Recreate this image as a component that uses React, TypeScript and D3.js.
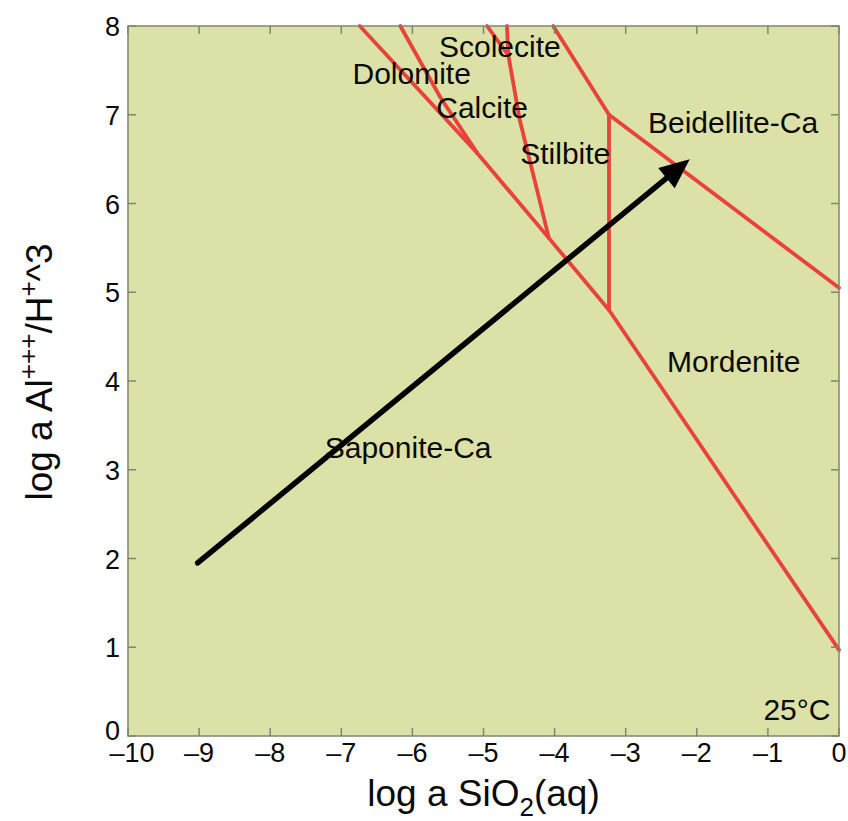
import React from "react";
import * as d3 from "d3";

type Pt = [number, number];

// Phase boundaries (log a SiO2(aq), log a Al+++/H+^3)
const boundaryDolomite: Pt[] = [[-6.74, 8], [-5.09, 6.57]];
const boundaryCalcite: Pt[] = [[-6.17, 8], [-5.61, 7.2], [-5.09, 6.57]];
const boundarySaponite: Pt[] = [[-5.09, 6.57], [-4.08, 5.61], [-3.235, 4.8], [0, 0.97]];
const boundaryScolecite: Pt[] = [[-4.95, 8], [-4.65, 7.67]];
const boundaryStilbite: Pt[] = [[-4.67, 8], [-4.65, 7.67], [-4.49, 6.94], [-4.08, 5.61]];
const boundaryUpper: Pt[] = [[-4.02, 8], [-3.235, 7.0]];
const boundaryVertical: Pt[] = [[-3.235, 7.0], [-3.235, 4.8]];
const boundaryBeidellite: Pt[] = [[-3.235, 7.0], [0, 5.05]];

const boundaries: Pt[][] = [
  boundaryDolomite,
  boundaryCalcite,
  boundarySaponite,
  boundaryScolecite,
  boundaryStilbite,
  boundaryUpper,
  boundaryVertical,
  boundaryBeidellite,
];

const arrowPath: Pt[] = [[-9.02, 1.95], [-2.1, 6.5]];

const fieldNames = ["Scolecite", "Dolomite", "Calcite", "Stilbite", "Beidellite-Ca", "Mordenite", "Saponite-Ca"];
const fieldX = [-4.77, -6.01, -5.02, -3.85, -1.49, -1.48, -6.06];
const fieldY = [7.65, 7.35, 6.96, 6.44, 6.79, 4.1, 3.13];

const xTicks = [-10, -9, -8, -7, -6, -5, -4, -3, -2, -1, 0];
const yTicks = [0, 1, 2, 3, 4, 5, 6, 7, 8];

const W = 848;
const H = 821;
const left = 128;
const right = 839;
const top = 26;
const bottom = 736;

const FONT = "'Liberation Sans', Arial, Helvetica, sans-serif";

export default function App() {
  const x = d3.scaleLinear().domain([-10, 0]).range([left, right]);
  const y = d3.scaleLinear().domain([0, 8]).range([bottom, top]);
  const line = d3
    .line<Pt>()
    .x((d) => x(d[0]))
    .y((d) => y(d[1]));

  const [a0, a1] = arrowPath;
  const sx = x(a0[0]), sy = y(a0[1]);
  const ex = x(a1[0]), ey = y(a1[1]);
  const ang = Math.atan2(ey - sy, ex - sx);
  const headLen = 30;
  const headHalf = 13;
  const bx = ex - headLen * Math.cos(ang);
  const by = ey - headLen * Math.sin(ang);
  const px = -Math.sin(ang), py = Math.cos(ang);
  const head = `M${ex},${ey}L${bx + headHalf * px},${by + headHalf * py}L${bx - headHalf * px},${by - headHalf * py}Z`;

  const fmt = (v: number) => (v < 0 ? "\u2013" + Math.abs(v) : String(v));
  const axisColor = "#7c8670";

  return (
    <svg width={W} height={H} style={{ position: "absolute", left: 0, top: 0, background: "#fff" }}>
      <rect x={left} y={top} width={right - left} height={bottom - top} fill="#dce2a7" />
      <g fill="none" stroke="#e8433b" strokeWidth={3.8} strokeLinejoin="round" strokeLinecap="round">
        {boundaries.map((b, i) => (
          <path key={i} d={line(b) || ""} />
        ))}
      </g>
      <g>
        <line x1={sx} y1={sy} x2={bx + 2 * Math.cos(ang)} y2={by + 2 * Math.sin(ang)} stroke="#000" strokeWidth={5.5} strokeLinecap="round" />
        <path d={head} fill="#000" />
      </g>
      <g fontFamily={FONT} fontSize={30} fill="#0a0a0a" textAnchor="middle">
        {fieldNames.map((n, i) => (
          <text key={n} x={x(fieldX[i])} y={y(fieldY[i])}>
            {n}
          </text>
        ))}
        <text x={x(-0.12)} y={y(0.18)} textAnchor="end">
          25°C
        </text>
      </g>
      <rect x={left} y={top} width={right - left} height={bottom - top} fill="none" stroke={axisColor} strokeWidth={1.5} />
      <g stroke={axisColor} strokeWidth={1.5}>
        {xTicks.map((t) => (
          <React.Fragment key={"x" + t}>
            <line x1={x(t)} x2={x(t)} y1={bottom} y2={bottom - 8} />
            <line x1={x(t)} x2={x(t)} y1={top} y2={top + 8} />
          </React.Fragment>
        ))}
        {yTicks.map((t) => (
          <React.Fragment key={"y" + t}>
            <line x1={left} x2={left + 8} y1={y(t)} y2={y(t)} />
            <line x1={right} x2={right - 8} y1={y(t)} y2={y(t)} />
          </React.Fragment>
        ))}
      </g>
      <g fontFamily={FONT} fontSize={27} fill="#0a0a0a">
        {xTicks.map((t) => (
          <text key={"xl" + t} x={x(t) + (t === -10 ? 4 : 0)} y={bottom + 26} textAnchor="middle">
            {fmt(t)}
          </text>
        ))}
        {yTicks.map((t) => (
          <text key={"yl" + t} x={left - 8} y={y(t) + (t === 0 ? 4 : 10)} textAnchor="end">
            {fmt(t)}
          </text>
        ))}
      </g>
      <text x={(left + right) / 2} y={806} fontFamily={FONT} fontSize={37} fill="#0a0a0a" textAnchor="middle">
        log a SiO
        <tspan fontSize={26} dy={10}>2</tspan>
        <tspan dy={-10}>(aq)</tspan>
      </text>
      <text
        transform={`translate(52,372) rotate(-90)`}
        fontFamily={FONT}
        fontSize={37}
        fill="#0a0a0a"
        textAnchor="middle"
      >
        log a Al
        <tspan fontSize={26} dy={-15}>+++</tspan>
        <tspan dy={15}>/H</tspan>
        <tspan fontSize={26} dy={-15}>+</tspan>
        <tspan dy={15}>^3</tspan>
      </text>
    </svg>
  );
}
